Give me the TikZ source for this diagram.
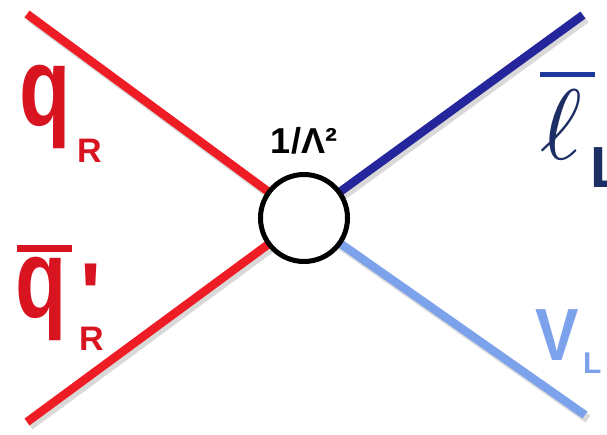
\documentclass[tikz,border=0pt]{standalone}
\usepackage{fontspec}
\newfontfamily\lab{Liberation Sans}
\usetikzlibrary{backgrounds}
\definecolor{qred}{HTML}{EE1C24}
\definecolor{tred}{HTML}{D7141F}
\definecolor{lnavy}{HTML}{25259C}
\definecolor{ellc}{HTML}{1C2E63}
\definecolor{barc}{HTML}{1F3A9E}
\definecolor{nublue}{HTML}{7DA2EC}
\begin{document}
\begin{tikzpicture}[x=1pt,y=-1pt,
  leg/.style={line width=8.5pt},
  shadowline/.style={line width=8.5pt, black, opacity=0.15},
  lbl/.style={anchor=base west, inner sep=0pt, font=\lab\bfseries},
  vertex/.style={circle, draw=black, line width=5pt, fill=white, minimum size=87pt, inner sep=0pt}]
\useasboundingbox (0,0) rectangle (607,434);
\node[vertex] (v) at (304,218) {};
\coordinate (qa) at (27,14);
\coordinate (qb) at (27,422);
\coordinate (la) at (583,15);
\coordinate (nb) at (585,415);
\begin{pgfonlayer}{background}
  \draw[shadowline] ([shift={(3,4)}]qa) -- ([shift={(3,4)}]v.center);
  \draw[shadowline] ([shift={(3,4)}]qb) -- ([shift={(3,4)}]v.center);
  \draw[shadowline] ([shift={(3,4)}]la) -- ([shift={(3,4)}]v.center);
  \draw[shadowline] ([shift={(3,4)}]nb) -- ([shift={(3,4)}]v.center);
  \draw[leg, qred] (qa) -- (v.center);
  \draw[leg, qred] (qb) -- (v.center);
  \draw[leg, lnavy] (la) -- (v.center);
  \draw[leg, nublue] (nb) -- (v.center);
\end{pgfonlayer}
% labels
\node[lbl, text=tred] (q1) at (19,125) {\scalebox{0.75}[1]{\fontsize{112}{112}\selectfont q}};
\node[lbl, text=tred, font=\lab\bfseries\fontsize{34}{34}\selectfont] (r1) at (77,162) {R};
\fill[tred] (17,245) rectangle (72,252);
\node[lbl, text=tred] (q2) at (15,317) {\scalebox{0.75}[1]{\fontsize{112}{112}\selectfont q}};
\node[lbl, text=tred, font=\lab\bfseries\fontsize{88}{88}\selectfont] (pr) at (80,324) {'};
\node[lbl, text=tred, font=\lab\bfseries\fontsize{34}{34}\selectfont] (r2) at (79,350) {R};
\node[anchor=base, inner sep=0pt, font=\lab\bfseries\fontsize{36}{36}\selectfont] (lam) at (304,153) {1/Λ²};
\fill[barc] (540,72) rectangle (595,77);
\node[anchor=base west, inner sep=0pt, text=ellc] (ell) at (540,159) {\scalebox{10}{$\ell$}};
\node[lbl, text=ellc, font=\lab\bfseries\fontsize{58}{58}\selectfont] (l1) at (590,187) {L};
\node[lbl, text=nublue] (nu) at (535,360) {\scalebox{0.88}[1]{\fontsize{74}{74}\selectfont V}};
\node[lbl, text=nublue, font=\lab\bfseries\fontsize{30}{30}\selectfont] (l2) at (583,373) {L};
\end{tikzpicture}
\end{document}
